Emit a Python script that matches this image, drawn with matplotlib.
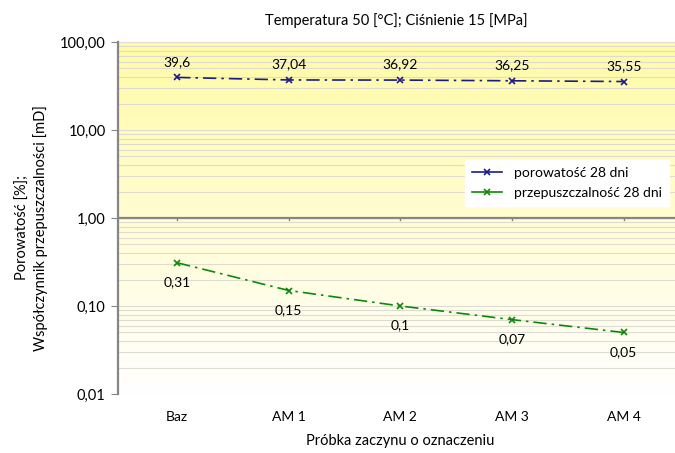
import numpy as np
import matplotlib
matplotlib.use("Agg")
import matplotlib.pyplot as plt
from matplotlib.ticker import FixedLocator, LogLocator, NullFormatter

plt.rcParams['font.family'] = ['Lato', 'DejaVu Sans']

# dane
categories = ["Baz", "AM 1", "AM 2", "AM 3", "AM 4"]
porowatosc = [39.6, 37.04, 36.92, 36.25, 35.55]
przepuszczalnosc = [0.31, 0.15, 0.1, 0.07, 0.05]
por_labels = ["39,6", "37,04", "36,92", "36,25", "35,55"]
prz_labels = ["0,31", "0,15", "0,1", "0,07", "0,05"]
yticks = [0.01, 0.1, 1, 10, 100]
ytick_labels = ["0,01", "0,10", "1,00", "10,00", "100,00"]

W, H = 675, 453
fig = plt.figure(figsize=(W / 100, H / 100), dpi=100)
ax = fig.add_axes([118 / W, 1 - 394 / H, 1 - 118 / W, (394 - 42) / H])

x = np.arange(len(categories))
ax.set_yscale("log")
ax.set_ylim(0.01, 100)
ax.set_xlim(-0.53, 4.46)

# tło z gradientem (żółty -> biały)
grad = np.linspace(0, 1, 256).reshape(-1, 1)
top = np.array([255, 251, 165]) / 255
bot = np.array([255, 255, 255]) / 255
img = bot + (top - bot) * grad[..., None]
ax.imshow(img, extent=[0, 1, 0, 1], transform=ax.transAxes, origin="lower",
          aspect="auto", zorder=0)

# siatka
ax.yaxis.set_major_locator(FixedLocator(yticks))
ax.yaxis.set_minor_locator(LogLocator(base=10, subs=np.arange(2, 10)))
ax.yaxis.set_minor_formatter(NullFormatter())
ax.grid(True, which="both", axis="y", color="#dedcd2", lw=0.8, zorder=1)
ax.set_axisbelow(True)

# oś X przecina przy 1
ax.axhline(1, color="#868686", lw=1.6, zorder=2)
for xi in x:
    ax.plot([xi, xi], [1, 0.94], color="#868686", lw=1, zorder=2)

ax.plot(x, porowatosc, color="#1a1a8c", ls=(0, (8, 3, 1.5, 3)), lw=1.2,
        marker="x", ms=5, mew=1.2, label="porowatość 28 dni", zorder=3)
ax.plot(x, przepuszczalnosc, color="#0a8a0a", ls=(0, (8, 3, 1.5, 3)), lw=1.2,
        marker="x", ms=5, mew=1.2, label="przepuszczalność 28 dni", zorder=3)

for xi, v, t in zip(x, porowatosc, por_labels):
    ax.annotate(t, (xi, v), xytext=(0, 7), textcoords="offset points",
                ha="center", va="bottom", fontsize=10)
for xi, v, t in zip(x, przepuszczalnosc, prz_labels):
    ax.annotate(t, (xi, v), xytext=(0, -9.5), textcoords="offset points",
                ha="center", va="top", fontsize=10)

ax.set_yticks(yticks)
ax.set_yticklabels(ytick_labels, fontsize=10.5)
ax.set_xticks(x)
ax.set_xticklabels(categories, fontsize=10)
ax.tick_params(axis="x", length=0, pad=12)
ax.tick_params(axis="y", which="major", length=5, color="#868686", pad=4)
ax.tick_params(axis="y", which="minor", length=0)

for s in ["top", "right", "bottom"]:
    ax.spines[s].set_visible(False)
ax.spines["left"].set_color("#868686")
ax.spines["left"].set_linewidth(1.6)

ax.set_title("Temperatura 50 [°C]; Ciśnienie 15 [MPa]", fontsize=10.5, pad=12)
fig.text(400 / W, 1 - 441 / H, "Próbka zaczynu o oznaczeniu", fontsize=10.5,
         ha="center", va="center")
fig.text(32 / W, 1 - 228 / H, "Porowatość [%];\nWspółczynnik przepuszczalności [mD]",
         fontsize=10.5, rotation=90, ha="center", va="center", multialignment="center")

leg = ax.legend(loc="upper left", bbox_to_anchor=((458 - 118) / (W - 118), 1 - (153 - 42) / 352),
                fontsize=10, frameon=True, fancybox=False, edgecolor="white",
                framealpha=1, handlelength=2.2, borderpad=0.5, labelspacing=0.6)
for h in leg.legend_handles:
    h.set_linestyle("-")

fig.savefig("out.png", dpi=100)
